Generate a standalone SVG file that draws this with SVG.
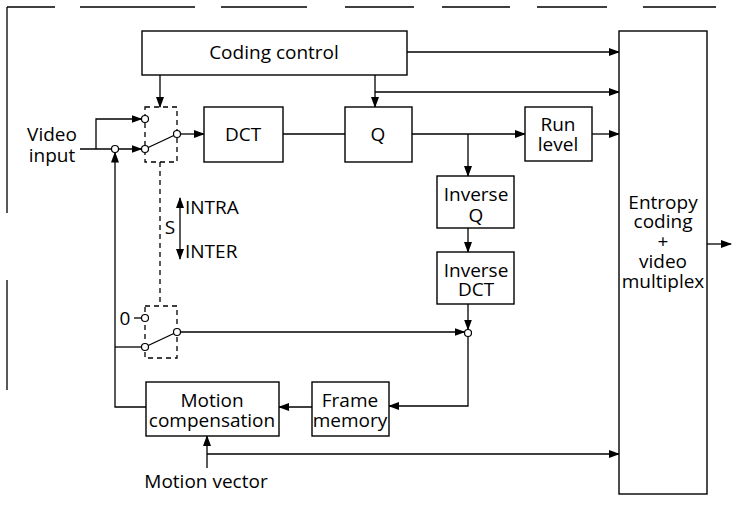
<svg xmlns="http://www.w3.org/2000/svg" width="742" height="513" viewBox="0 0 742 513">
<defs>
<marker id="ah" markerWidth="11" markerHeight="8" refX="10" refY="4" orient="auto" markerUnits="userSpaceOnUse">
<path d="M0,0 L11,4 L0,8 z" fill="#000"/>
</marker>
<marker id="ahs" markerWidth="11" markerHeight="8" refX="10" refY="4" orient="auto-start-reverse" markerUnits="userSpaceOnUse">
<path d="M0,0 L11,4 L0,8 z" fill="#000"/>
</marker>
</defs>
<style>
.box{fill:#fff;stroke:#000;stroke-width:1.4}
.dash{fill:none;stroke:#000;stroke-width:1.3;stroke-dasharray:5,4}
.ln{fill:none;stroke:#000;stroke-width:1.3}
.arr{fill:none;stroke:#000;stroke-width:1.3;marker-end:url(#ah)}
.frame{fill:none;stroke:#000;stroke-width:1.3}
.ct{fill:#fff;stroke:#000;stroke-width:1.2}
text{font-family:"Open Sans","Noto Sans","Liberation Sans",sans-serif;font-size:19px;fill:#000}
.m{text-anchor:middle}
</style>
<rect width="742" height="513" fill="#fff"/>
<g id="frame">
<path class="frame" d="M7,7 H55 M80,7 H195 M221,7 H307 M345,7 H414 M442,7 H510 M537,7 H607 M643,7 H716 M7,7 V213 M7,280 V390"/>
</g>
<g id="connectors">
<path class="arr" d="M407,52 H619"/>
<path class="arr" d="M160,75 V107"/>
<path class="arr" d="M375,75 V107"/>
<path class="arr" d="M375,92 H619"/>
<path class="ln" d="M283,134 H345"/>
<path class="arr" d="M177,134 H204"/>
<path class="arr" d="M412,134 H525"/>
<path class="arr" d="M468,134 V176"/>
<path class="arr" d="M592,134 H619"/>
<path class="arr" d="M468,228 V252"/>
<path class="arr" d="M468,304 V329.5"/>
<path class="arr" d="M177,332 H464.5"/>
<path class="arr" d="M468,336.5 V406 H389"/>
<path class="arr" d="M312,407 H279"/>
<path class="arr" d="M146,407 H115 V152.5"/>
<path class="ln" d="M115,347 H141.5"/>
<path class="arr" d="M80,149 H141.5"/>
<path class="arr" d="M96,149 V119 H141.5"/>
<path class="arr" d="M207,468 V436"/>
<path class="arr" d="M207,454 H619"/>
<path class="arr" d="M707,244 H731"/>
<path class="ln" d="M134,318 H141.5"/>
<path class="ln" d="M180,198 V259" marker-start="url(#ahs)" marker-end="url(#ahs)"/>
<path class="dash" d="M160,162 V306"/>
</g>
<g id="switch1">
<rect class="dash" x="145" y="107" width="32" height="55"/>
<path class="ln" d="M145,149 L177,134"/>
<circle class="ct" cx="145" cy="119" r="3.5"/>
<circle class="ct" cx="145" cy="149" r="3.5"/>
<circle class="ct" cx="177" cy="134" r="3.5"/>
<circle class="ct" cx="115" cy="149" r="3.5"/>
</g>
<g id="switch2">
<rect class="dash" x="145" y="306" width="32" height="52"/>
<path class="ln" d="M145,347 L177,332"/>
<circle class="ct" cx="145" cy="318" r="3.5"/>
<circle class="ct" cx="145" cy="347" r="3.5"/>
<circle class="ct" cx="177" cy="332" r="3.5"/>
<text x="125" y="325" class="m">0</text>
</g>
<g id="sum">
<circle class="ct" cx="468" cy="333" r="3.5"/>
</g>
<g id="video-input">
<text x="52" y="141" class="m"><tspan x="52">Video</tspan><tspan x="52" dy="21">input</tspan></text>
</g>
<g id="s-label">
<text x="170" y="234" class="m">S</text>
<text x="185" y="214">INTRA</text>
<text x="185" y="258">INTER</text>
</g>
<g id="coding-control">
<rect class="box" x="142" y="31" width="265" height="44"/>
<text x="274" y="59" class="m">Coding control</text>
</g>
<g id="dct">
<rect class="box" x="204" y="107" width="79" height="55"/>
<text x="243" y="141" class="m">DCT</text>
</g>
<g id="q">
<rect class="box" x="345" y="107" width="67" height="55"/>
<text x="378" y="141" class="m">Q</text>
</g>
<g id="run-level">
<rect class="box" x="525" y="107" width="67" height="54"/>
<text x="558" y="131" class="m"><tspan x="558">Run</tspan><tspan x="558" dy="20">level</tspan></text>
</g>
<g id="inverse-q">
<rect class="box" x="437" y="176" width="77" height="52"/>
<text x="476" y="201" class="m"><tspan x="476">Inverse</tspan><tspan x="476" dy="21">Q</tspan></text>
</g>
<g id="inverse-dct">
<rect class="box" x="437" y="252" width="77" height="52"/>
<text x="476" y="277" class="m"><tspan x="476">Inverse</tspan><tspan x="476" dy="19">DCT</tspan></text>
</g>
<g id="frame-memory">
<rect class="box" x="312" y="382" width="77" height="54"/>
<text x="350" y="407" class="m"><tspan x="350">Frame</tspan><tspan x="350" dy="20">memory</tspan></text>
</g>
<g id="motion-compensation">
<rect class="box" x="146" y="382" width="133" height="54"/>
<text x="212" y="407" class="m"><tspan x="212">Motion</tspan><tspan x="212" dy="20">compensation</tspan></text>
</g>
<g id="motion-vector">
<text x="206" y="488" class="m">Motion vector</text>
</g>
<g id="entropy">
<rect class="box" x="619" y="31" width="88" height="463"/>
<text x="663" y="209" class="m"><tspan x="663">Entropy</tspan><tspan x="663" dy="19">coding</tspan><tspan x="663" dy="20">+</tspan><tspan x="663" dy="20">video</tspan><tspan x="663" dy="20">multiplex</tspan></text>
</g>
</svg>
